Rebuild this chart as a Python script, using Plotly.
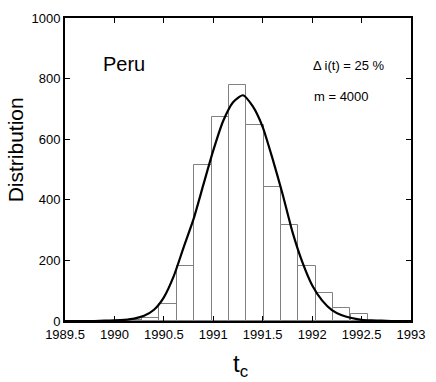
import plotly.graph_objects as go

# histogram bins (centres, years) and counts
bin_centres = [1990.015, 1990.191, 1990.367, 1990.543, 1990.718, 1990.894, 1991.070,
               1991.246, 1991.421, 1991.597, 1991.773, 1991.949, 1992.125, 1992.300,
               1992.476]
bin_counts = [1, 3, 11, 57, 183, 516, 674, 780, 646, 441, 317, 183, 91, 44, 24]
bin_width = 0.1758

# fitted curve
curve_t = [1989.5, 1989.6, 1989.7, 1989.8, 1989.9, 1990.0, 1990.1, 1990.2, 1990.3,
           1990.4, 1990.5, 1990.6, 1990.7, 1990.8, 1990.9, 1991.0, 1991.1, 1991.2,
           1991.3, 1991.4, 1991.5, 1991.6, 1991.7, 1991.8, 1991.9, 1992.0, 1992.1,
           1992.2, 1992.3, 1992.4, 1992.5, 1992.6, 1992.7, 1992.8, 1992.9, 1993.0]
curve_n = [0, 0, 0, 0, 1, 2, 4, 8, 17, 37, 78, 148, 243, 336, 450, 563, 660, 722,
           745, 708, 640, 535, 420, 295, 195, 118, 68, 36, 19, 10, 4, 2, 1, 0, 0, 0]

x_ticks = [1989.5, 1990, 1990.5, 1991, 1991.5, 1992, 1992.5, 1993]
x_tick_text = ["1989.5", "1990", "1990.5", "1991", "1991.5", "1992", "1992.5", "1993"]
y_ticks = [0, 200, 400, 600, 800, 1000]

FONT = "Liberation Sans, Arial, Helvetica, sans-serif"

fig = go.Figure()

fig.add_trace(go.Bar(
    x=bin_centres, y=bin_counts, width=bin_width,
    marker=dict(color="white", line=dict(color="#808080", width=1)),
    showlegend=False,
))

fig.add_trace(go.Scatter(
    x=curve_t, y=curve_n, mode="lines",
    line=dict(color="black", width=2.2, shape="spline", smoothing=0.6),
    showlegend=False,
))

# labels inside the plot
fig.add_annotation(x=0.103, y=0.848, xref="paper", yref="paper", text="Peru",
                   showarrow=False, xanchor="left", yanchor="middle",
                   font=dict(size=20, color="black", family=FONT))
fig.add_annotation(x=0.71, y=0.843, xref="paper", yref="paper", text="Δ i(t) = 25 %",
                   showarrow=False, xanchor="left", yanchor="middle",
                   font=dict(size=13, color="black", family=FONT))
fig.add_annotation(x=0.714, y=0.74, xref="paper", yref="paper", text="m = 4000",
                   showarrow=False, xanchor="left", yanchor="middle",
                   font=dict(size=13, color="black", family=FONT))

# axis titles placed as in the original
fig.add_annotation(x=-0.143, y=0.565, xref="paper", yref="paper", text="Distribution",
                   showarrow=False, textangle=-90, xanchor="center", yanchor="middle",
                   font=dict(size=21, color="black", family=FONT))
fig.add_annotation(x=0.507, y=-0.148, xref="paper", yref="paper", text="t<sub>c</sub>",
                   showarrow=False, xanchor="center", yanchor="middle",
                   font=dict(size=24, color="black", family=FONT))

fig.update_layout(
    width=436, height=382,
    margin=dict(l=65, r=16, t=11, b=61),
    paper_bgcolor="white", plot_bgcolor="white",
    bargap=0,
    font=dict(family=FONT, size=13, color="black"),
)
fig.update_xaxes(
    range=[1989.5, 1993], tickvals=x_ticks, ticktext=x_tick_text,
    showline=True, linecolor="black", linewidth=2, mirror="ticks",
    ticks="inside", ticklen=5, tickwidth=1, tickcolor="black",
    showgrid=False, zeroline=False,
)
fig.update_yaxes(
    range=[0, 1000], tickvals=y_ticks,
    showline=True, linecolor="black", linewidth=2, mirror="ticks",
    ticks="inside", ticklen=5, tickwidth=1, tickcolor="black",
    showgrid=False, zeroline=False,
)

fig.write_html("out.html", config={"displayModeBar": False},
               post_script="document.body.style.margin='0';")
